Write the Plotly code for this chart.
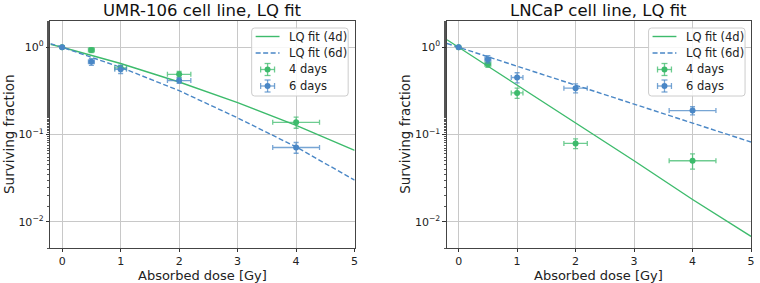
import plotly.graph_objects as go

# ---------------- data ----------------
dose = [0, 0.5, 1, 2, 4]
dose_err = [0, 0.05, 0.1, 0.2, 0.4]

# UMR-106
umr_4d = [1.0, 0.93, 0.58, 0.49, 0.138]
umr_4d_err = [0.02, 0.06, 0.04, 0.04, 0.02]
umr_6d = [1.0, 0.68, 0.56, 0.415, 0.071]
umr_6d_err = [0.02, 0.06, 0.06, 0.03, 0.01]

# LNCaP
lnc_4d = [1.0, 0.64, 0.30, 0.079, 0.050]
lnc_4d_err = [0.02, 0.05, 0.04, 0.01, 0.01]
lnc_6d = [1.0, 0.73, 0.45, 0.34, 0.188]
lnc_6d_err = [0.02, 0.07, 0.06, 0.04, 0.02]

# fitted LQ curves
fit_x = [-0.2, 0, 1, 2, 3, 4, 5]
umr_fit_4d = [1.08, 1.0, 0.651, 0.40, 0.232, 0.127, 0.0656]
umr_fit_6d = [1.10, 1.0, 0.589, 0.318, 0.155, 0.072, 0.030]
lnc_fit_4d = [1.22, 1.0, 0.368, 0.135, 0.050, 0.018, 0.0068]
lnc_fit_6d = [1.105, 1.0, 0.607, 0.368, 0.223, 0.135, 0.082]

titles = ["UMR-106 cell line, LQ fit", "LNCaP cell line, LQ fit"]
x_label = "Absorbed dose [Gy]"
y_label = "Surviving fraction"
y_tickvals = [1, 0.1, 0.01]
y_ticktext = ["10<sup>0</sup>", "10<sup>−1</sup>", "10<sup>−2</sup>"]
legend_names = ["LQ fit (4d)", "LQ fit (6d)", "4 days", "6 days"]

GREEN = "#3dbb6c"
BLUE = "#4a87c6"
GREEN_ERR = "rgba(61,187,108,0.75)"
BLUE_ERR = "rgba(74,135,198,0.75)"
FONT = "DejaVu Sans"

W, H = 760, 283
fig = go.Figure()

panels = [
    (umr_fit_4d, umr_fit_6d, umr_4d, umr_4d_err, umr_6d, umr_6d_err, "x", "y"),
    (lnc_fit_4d, lnc_fit_6d, lnc_4d, lnc_4d_err, lnc_6d, lnc_6d_err, "x2", "y2"),
]

for f4, f6, d4, e4, d6, e6, xa, ya in panels:
    fig.add_trace(go.Scatter(x=fit_x, y=f4, mode="lines", name=legend_names[0],
                             line=dict(color=GREEN, width=1.4), xaxis=xa, yaxis=ya))
    fig.add_trace(go.Scatter(x=fit_x, y=f6, mode="lines", name=legend_names[1],
                             line=dict(color=BLUE, width=1.4, dash="5px,2.5px"),
                             xaxis=xa, yaxis=ya))
    fig.add_trace(go.Scatter(x=dose, y=d4, mode="markers", name=legend_names[2],
                             marker=dict(color=GREEN, size=6),
                             error_x=dict(type="data", array=dose_err, color=GREEN_ERR, thickness=1.3, width=2.5),
                             error_y=dict(type="data", array=e4, color=GREEN_ERR, thickness=1.3, width=2.5),
                             xaxis=xa, yaxis=ya))
    fig.add_trace(go.Scatter(x=dose, y=d6, mode="markers", name=legend_names[3],
                             marker=dict(color=BLUE, size=6),
                             error_x=dict(type="data", array=dose_err, color=BLUE_ERR, thickness=1.3, width=2.5),
                             error_y=dict(type="data", array=e6, color=BLUE_ERR, thickness=1.3, width=2.5),
                             xaxis=xa, yaxis=ya))

y0, y1 = 1 - 248 / H, 1 - 21 / H
doms = [(50.7 / W, 356.5 / W), (449.3 / W, 755 / W)]

common_x = dict(range=[-0.2, 5], tickvals=[0, 1, 2, 3, 4, 5], ticks="outside", ticklen=3,
                tickcolor="#333", tickfont=dict(size=11, color="#222", family=FONT),
                showgrid=True, gridcolor="#c8c8c8", gridwidth=1, zeroline=False,
                showline=True, linecolor="#444", linewidth=1, mirror=True)
common_y = dict(type="log", range=[-2.301, 0.301], tickvals=y_tickvals, ticktext=y_ticktext,
                ticks="outside", ticklen=3.5, tickcolor="#333",
                tickfont=dict(size=11, color="#222", family=FONT),
                minor=dict(ticks="outside", ticklen=2, tickcolor="#555", showgrid=False),
                showgrid=True, gridcolor="#c8c8c8", gridwidth=1, zeroline=False,
                showline=True, linecolor="#444", linewidth=1, mirror=True)

fig.update_layout(
    width=W, height=H, margin=dict(l=0, r=0, t=0, b=0),
    paper_bgcolor="white", plot_bgcolor="white",
    font=dict(family=FONT, color="#222"),
    xaxis=dict(domain=list(doms[0]), anchor="y", **common_x),
    yaxis=dict(domain=[y0, y1], anchor="x", **common_y),
    xaxis2=dict(domain=list(doms[1]), anchor="y2", **common_x),
    yaxis2=dict(domain=[y0, y1], anchor="x2", **common_y),
    showlegend=False,
)


def px(x):
    return x / W


def py(y):
    return 1 - y / H


def rounded_rect(xa, ya, xb, yb, r):
    pts = [
        f"M {px(xa + r)},{py(ya)}",
        f"L {px(xb - r)},{py(ya)}",
        f"Q {px(xb)},{py(ya)} {px(xb)},{py(ya + r)}",
        f"L {px(xb)},{py(yb - r)}",
        f"Q {px(xb)},{py(yb)} {px(xb - r)},{py(yb)}",
        f"L {px(xa + r)},{py(yb)}",
        f"Q {px(xa)},{py(yb)} {px(xa)},{py(yb - r)}",
        f"L {px(xa)},{py(ya + r)}",
        f"Q {px(xa)},{py(ya)} {px(xa + r)},{py(ya)}",
        "Z",
    ]
    return " ".join(pts)


shapes = []
annotations = []
legend_left = [253, 652]
rows = [36.5, 53, 69.5, 86]
for i, (a, b) in enumerate(doms):
    cx = (a + b) / 2
    annotations.append(dict(text=titles[i], x=cx, y=py(10), xref="paper", yref="paper",
                            showarrow=False, font=dict(size=16.5, family=FONT, color="#111"),
                            xanchor="center", yanchor="middle"))
    annotations.append(dict(text=x_label, x=cx, y=py(275), xref="paper", yref="paper",
                            showarrow=False, font=dict(size=13, family=FONT, color="#222"),
                            xanchor="center", yanchor="middle"))
    lx = 9 if i == 0 else 407
    annotations.append(dict(text=y_label, x=px(lx), y=py(134), xref="paper", yref="paper",
                            showarrow=False, textangle=-90, font=dict(size=13.5, family=FONT, color="#222"),
                            xanchor="center", yanchor="middle"))

    # legend (drawn manually to match the compact matplotlib layout)
    L = legend_left[i]
    shapes.append(dict(type="path", path=rounded_rect(L, 28, L + 97, 96, 3), xref="paper", yref="paper",
                       fillcolor="rgba(255,255,255,0.85)", line=dict(color="#cccccc", width=1), layer="above"))
    shapes.append(dict(type="line", xref="paper", yref="paper", x0=px(L + 4), x1=px(L + 28),
                       y0=py(rows[0]), y1=py(rows[0]), line=dict(color=GREEN, width=1.4), layer="above"))
    shapes.append(dict(type="line", xref="paper", yref="paper", x0=px(L + 4), x1=px(L + 28),
                       y0=py(rows[1]), y1=py(rows[1]), line=dict(color=BLUE, width=1.4, dash="5px,2.5px"),
                       layer="above"))
    for r, col, ecol in [(rows[2], GREEN, GREEN_ERR), (rows[3], BLUE, BLUE_ERR)]:
        mx = L + 16
        for seg in [(mx - 7, r, mx + 7, r), (mx - 7, r - 3, mx - 7, r + 3), (mx + 7, r - 3, mx + 7, r + 3),
                    (mx, r - 6, mx, r + 6), (mx - 3, r - 6, mx + 3, r - 6), (mx - 3, r + 6, mx + 3, r + 6)]:
            shapes.append(dict(type="line", xref="paper", yref="paper", x0=px(seg[0]), y0=py(seg[1]),
                               x1=px(seg[2]), y1=py(seg[3]), line=dict(color=ecol, width=1.3), layer="above"))
        shapes.append(dict(type="circle", xref="paper", yref="paper", x0=px(mx - 3), x1=px(mx + 3),
                           y0=py(r - 3), y1=py(r + 3), fillcolor=col, line=dict(color=col, width=0),
                           layer="above"))
    for name, r in zip(legend_names, rows):
        annotations.append(dict(text=name, x=px(L + 36), y=py(r), xref="paper", yref="paper",
                                showarrow=False, font=dict(size=11.5, family=FONT, color="#222"),
                                xanchor="left", yanchor="middle"))

fig.update_layout(annotations=annotations, shapes=shapes)

fig.write_html("out.html")
